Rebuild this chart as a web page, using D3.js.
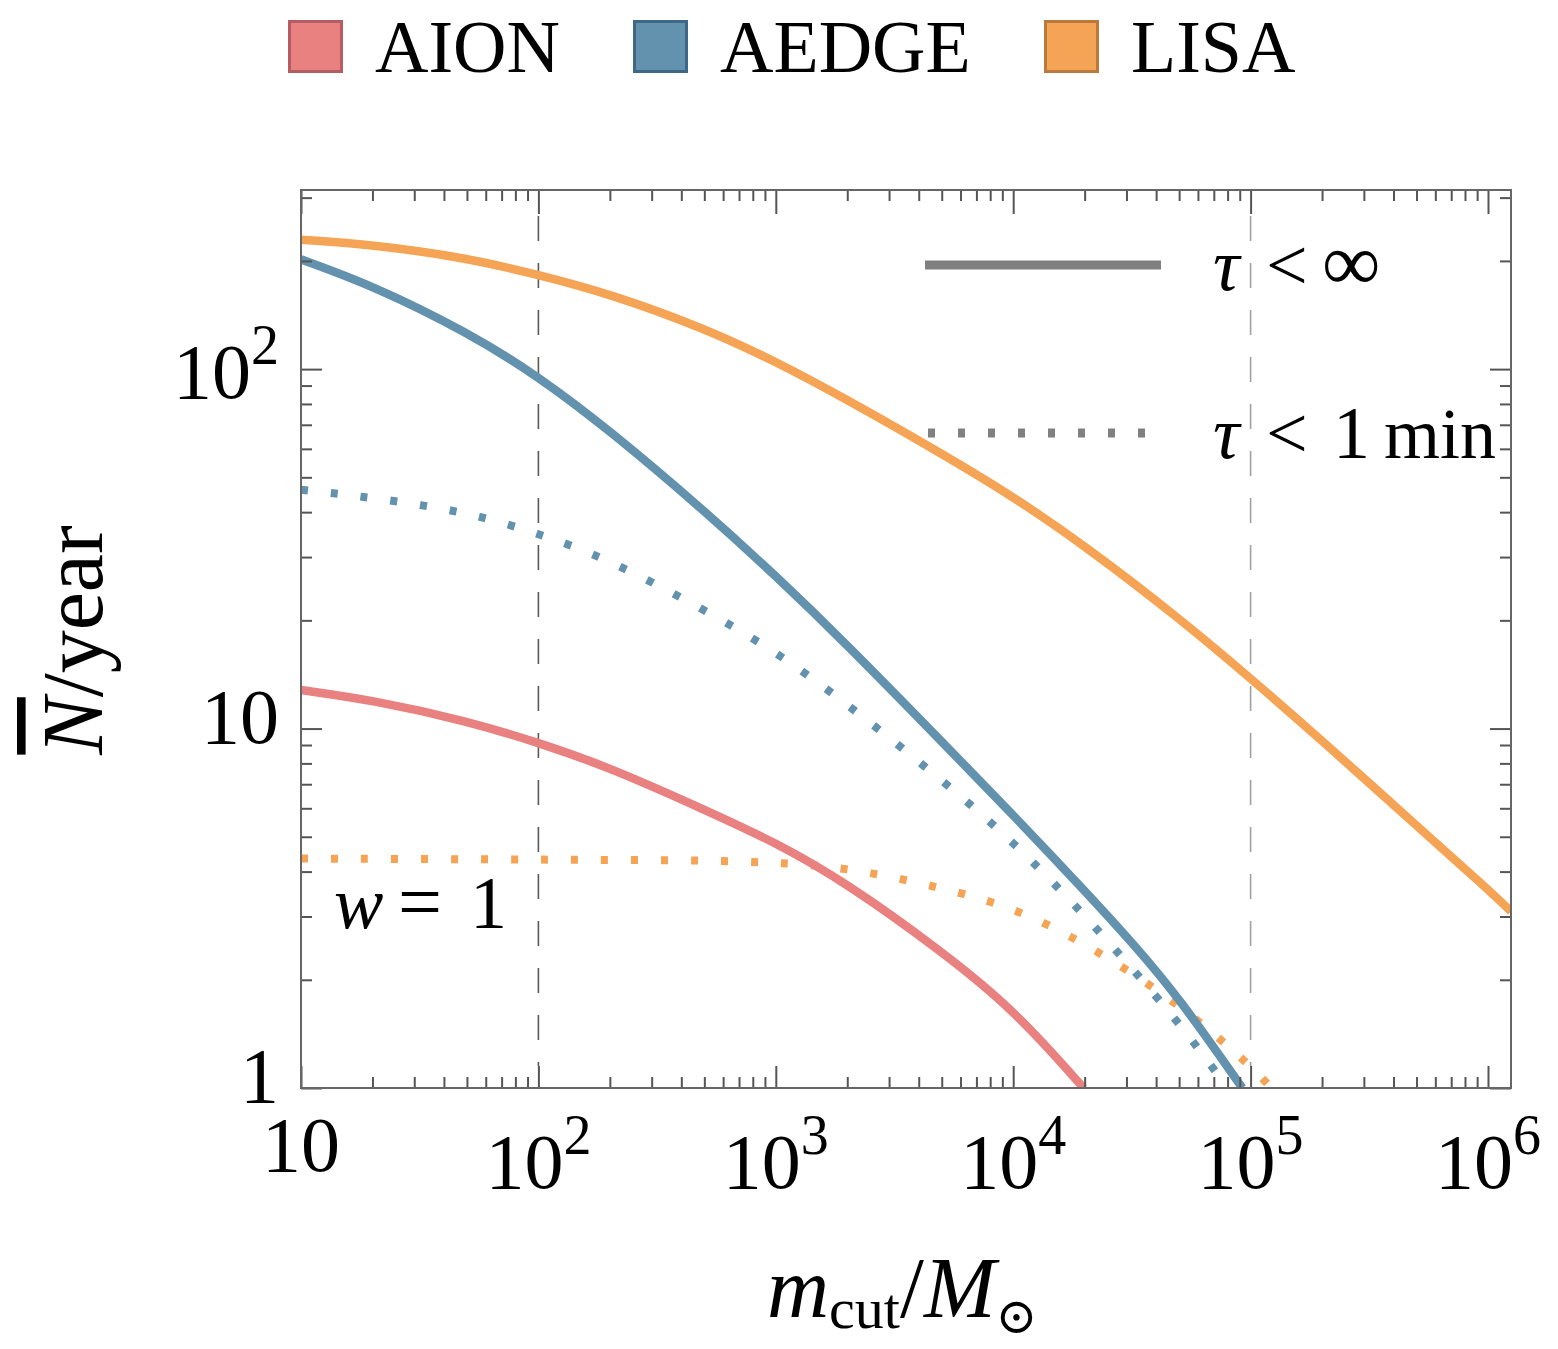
<!DOCTYPE html>
<html lang="en">
<head>
<meta charset="UTF-8">
<title>N per year vs m_cut</title>
<script src="https://cdn.jsdelivr.net/npm/d3@7"></script>
<style>
  body { margin: 0; background: #fff; }
  text { font-family: "Liberation Serif", "DejaVu Serif", serif; fill: #000; }
</style>
</head>
<body>
<script>
    // values (m_cut in solar masses, N per year)
    const aionMass = [10, 20, 50, 100, 200, 500, 1e3, 2e3, 5e3, 1e4, 1.98e4]
    const aionSolid = [12.8, 12.0, 10.5, 9.14, 7.79, 5.95, 4.82, 3.71, 2.40, 1.66, 1.0]

    const aedgeMass = [10, 20, 50, 100, 200, 500, 1e3, 2e3, 5e3, 1e4, 2e4, 3.24e4, 5e4, 9.23e4]
    const aedgeSolid = [202, 171, 127, 95.5, 67.5, 40.4, 26.6, 17.1, 9.2, 5.75, 3.54, 2.5, 1.78, 1.0]
    const aedgeDotMass = [10, 20, 50, 100, 200, 500, 1e3, 2e3, 5e3, 1e4, 2e4, 5e4, 7.98e4]
    const aedgeDotted = [46.2, 43.9, 40.1, 34.9, 29.5, 21.4, 16.4, 11.7, 7.21, 4.85, 3.04, 1.53, 1.0]

    const lisaMass = [10, 20, 50, 100, 200, 500, 1e3, 2e3, 5e3, 1e4, 2e4, 5e4, 1e5, 2e5, 5e5, 1e6, 1.25e6]
    const lisaSolid = [229, 222, 204, 183, 162, 130, 105, 82.2, 58.2, 44.2, 32.3, 20.3, 13.8, 9.26, 5.37, 3.57, 3.10]
    const lisaDotMass = [10, 20, 50, 100, 200, 500, 1e3, 2e3, 5e3, 1e4, 2e4, 5e4, 1e5, 1.22e5]
    const lisaDotted = [4.35, 4.34, 4.33, 4.32, 4.31, 4.30, 4.24, 4.11, 3.61, 3.18, 2.54, 1.72, 1.155, 1.0]

    const detectors = ['AION', 'AEDGE', 'LISA']
    const xMajor = [10, 1e2, 1e3, 1e4, 1e5, 1e6]
    const xLabels = [['10', ''], ['10', '2'], ['10', '3'], ['10', '4'], ['10', '5'], ['10', '6']]
    const yMajor = [1, 10, 100]
    const yLabels = [['1', ''], ['10', ''], ['10', '2']]
    const guideMass = [1e2, 1e5]

    const colors = { AION: '#e88180', AEDGE: '#6392af', LISA: '#f5a354' }
    const borders = { AION: '#b55d63', AEDGE: '#3e6883', LISA: '#b97a3c' }

    const [width, height] = [1558, 1349]
    const svg = d3.select('body').append('svg')
        .attr('width', width)
        .attr('height', height)

    const x = d3.scaleLog().domain([10, 1.25e6]).range([301, 1511])
    const y = d3.scaleLog().domain([1, 315]).range([1088, 190])
    const [x0, x1] = x.range()
    const [y0, y1] = y.range()

    svg.append('clipPath').attr('id', 'plot')
        .append('rect')
        .attr('x', x0).attr('y', y1)
        .attr('width', x1 - x0).attr('height', y0 - y1)

    // minor ticks
    const xMinor = []
    for (let d = 10; d < 2e6; d *= 10)
        for (let k = 2; k <= 9; k++) if (d * k <= 1.25e6) xMinor.push(d * k)
    const yMinor = []
    for (let d = 1; d < 1000; d *= 10)
        for (let k = 2; k <= 9; k++) if (d * k <= 315) yMinor.push(d * k)

    // vertical guide lines
    svg.append('g').selectAll('line')
        .data(guideMass)
        .enter().append('line')
        .attr('x1', d => x(d)).attr('x2', d => x(d))
        .attr('y1', y1 + 26).attr('y2', y0 - 22)
        .attr('stroke', (d, i) => i === 0 ? '#5a5a5a' : '#a0a0a0')
        .attr('stroke-width', 1.6)
        .attr('stroke-dasharray', '25,22')

    // curves
    const line = d3.line()
        .x(d => x(d[0]))
        .y(d => y(d[1]))
        .curve(d3.curveBasis)
    const series = [
        { mass: lisaDotMass, vals: lisaDotted, det: 'LISA', dotted: true },
        { mass: aedgeDotMass, vals: aedgeDotted, det: 'AEDGE', dotted: true },
        { mass: aionMass, vals: aionSolid, det: 'AION', dotted: false },
        { mass: lisaMass, vals: lisaSolid, det: 'LISA', dotted: false },
        { mass: aedgeMass, vals: aedgeSolid, det: 'AEDGE', dotted: false },
    ]
    svg.append('g').attr('clip-path', 'url(#plot)')
        .selectAll('path')
        .data(series)
        .enter().append('path')
        .attr('d', s => line(s.mass.map((m, i) => [m, s.vals[i]])))
        .attr('fill', 'none')
        .attr('stroke', s => colors[s.det])
        .attr('stroke-width', s => s.dotted ? 8 : 8.5)
        .attr('stroke-dasharray', s => s.dotted ? '7,23' : null)

    // ticks on all four sides, pointing inward
    const tickColor = '#555'
    const addAxis = (axis, tx, ty) => {
        const g = svg.append('g').attr('transform', `translate(${tx},${ty})`).call(axis)
        g.select('.domain').remove()
        g.selectAll('line').attr('stroke', tickColor).attr('stroke-width', 2)
    }
    addAxis(d3.axisBottom(x).tickValues(xMajor).tickSize(-22).tickFormat(''), 0, y0)
    addAxis(d3.axisBottom(x).tickValues(xMinor).tickSize(-11).tickFormat(''), 0, y0)
    addAxis(d3.axisTop(x).tickValues(xMajor).tickSize(-24).tickFormat(''), 0, y1)
    addAxis(d3.axisTop(x).tickValues(xMinor).tickSize(-11).tickFormat(''), 0, y1)
    addAxis(d3.axisLeft(y).tickValues(yMajor).tickSize(-21).tickFormat(''), x0, 0)
    addAxis(d3.axisLeft(y).tickValues(yMinor).tickSize(-11).tickFormat(''), x0, 0)
    addAxis(d3.axisRight(y).tickValues(yMajor).tickSize(-21).tickFormat(''), x1, 0)
    addAxis(d3.axisRight(y).tickValues(yMinor).tickSize(-11).tickFormat(''), x1, 0)

    svg.append('rect')
        .attr('x', x0).attr('y', y1)
        .attr('width', x1 - x0).attr('height', y0 - y1)
        .attr('fill', 'none')
        .attr('stroke', '#666')
        .attr('stroke-width', 2)

    // tick labels
    const fs = 78
    const xl = svg.append('g').selectAll('text')
        .data(xMajor)
        .enter().append('text')
        .attr('x', d => x(d))
        .attr('y', (d, i) => xLabels[i][1] ? 1188 : 1171)
        .attr('text-anchor', 'middle')
        .style('font-size', fs + 'px')
    xl.append('tspan').text((d, i) => xLabels[i][0])
    xl.append('tspan').attr('dy', -34).style('font-size', '56px').text((d, i) => xLabels[i][1])

    const yl = svg.append('g').selectAll('text')
        .data(yMajor)
        .enter().append('text')
        .attr('x', 279)
        .attr('y', (d, i) => y(d) + (yLabels[i][1] ? 29 : 14))
        .attr('text-anchor', 'end')
        .style('font-size', fs + 'px')
    yl.append('tspan').text((d, i) => yLabels[i][0])
    yl.append('tspan').attr('dy', -34).style('font-size', '56px').text((d, i) => yLabels[i][1])

    // top legend
    const legendX = [288, 633, 1044]
    const leg = svg.append('g').selectAll('g')
        .data(detectors)
        .enter().append('g')
        .attr('transform', (d, i) => `translate(${legendX[i]},20)`)
    leg.append('rect')
        .attr('x', 1.5).attr('y', 1.5)
        .attr('width', 52).attr('height', 50)
        .attr('fill', d => colors[d])
        .attr('stroke', d => borders[d])
        .attr('stroke-width', 3)
    leg.append('text')
        .attr('x', 87).attr('y', 52)
        .style('font-size', '74px')
        .text(d => d)

    // in-plot line style legend
    svg.append('line')
        .attr('x1', 925).attr('x2', 1161).attr('y1', 265).attr('y2', 265)
        .attr('stroke', '#808080').attr('stroke-width', 9)
    svg.append('line')
        .attr('x1', 928).attr('x2', 1150).attr('y1', 433).attr('y2', 433)
        .attr('stroke', '#808080').attr('stroke-width', 9)
        .attr('stroke-dasharray', '7,23')

    const tau1 = svg.append('text').attr('y', 290).style('font-size', '74px')
    tau1.append('tspan').attr('x', 1213).style('font-style', 'italic').text('τ')
    tau1.append('tspan').attr('x', 1266).text('<')
    tau1.append('tspan').attr('x', 1322).style('font-size', '82px').text('∞')
    const tau2 = svg.append('text').attr('y', 458).style('font-size', '74px')
    tau2.append('tspan').attr('x', 1213).style('font-style', 'italic').text('τ')
    tau2.append('tspan').attr('x', 1266).text('<')
    tau2.append('tspan').attr('x', 1333).text('1')
    tau2.append('tspan').attr('x', 1384).style('font-size', '72px').text('min')

    const wl = svg.append('text').attr('y', 928).style('font-size', '74px')
    wl.append('tspan').attr('x', 334).style('font-style', 'italic').text('w')
    wl.append('tspan').attr('x', 398).style('font-size', '78px').text('=')
    wl.append('tspan').attr('x', 470).text('1')

    // axis titles
    const xt = svg.append('text').attr('x', 767).attr('y', 1317).style('font-size', '86px')
    xt.append('tspan').style('font-style', 'italic').text('m')
    xt.append('tspan').attr('dy', 11).style('font-size', '58px').text('cut')
    xt.append('tspan').attr('dy', -11).text('/')
    xt.append('tspan').style('font-style', 'italic').text('M')
    xt.append('tspan').attr('dy', 16).style('font-size', '50px').text('⊙')

    const yt = svg.append('text')
        .attr('transform', 'translate(102,640) rotate(-90)')
        .attr('text-anchor', 'middle')
        .style('font-size', '86px')
    yt.append('tspan').style('font-style', 'italic').style('text-decoration', 'overline').text('N')
    yt.append('tspan').text('/year')
</script>
</body>
</html>
